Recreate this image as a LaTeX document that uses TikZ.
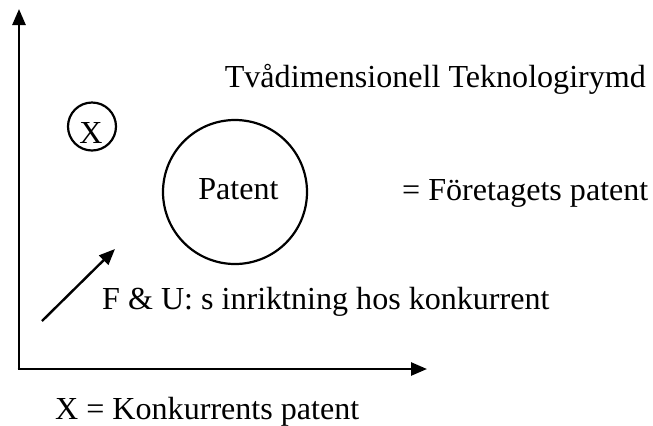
\documentclass[tikz,border=0pt]{standalone}
\usepackage{fontspec}
\setmainfont{Liberation Serif}
\usetikzlibrary{arrows.meta}
\tikzset{
  axis/.style={line width=2.6bp, -{Triangle[length=16bp,width=13bp]}},
  ring/.style={circle, draw, line width=2.2bp, inner sep=0pt},
  lbl/.style={inner sep=0pt, font=\fontsize{32.2}{38}\selectfont},
  pointer/.style={line width=2.4bp, -{Triangle[length=16bp,width=13bp]}}
}
\begin{document}
\begin{tikzpicture}[x=1bp, y=-1bp]
  \useasboundingbox (0,0) rectangle (653,425);
  % axes
  \coordinate (origin) at (19,369);
  \coordinate (ytip) at (19,9);
  \coordinate (xtip) at (427,369);
  \draw[axis] (origin) -- (ytip);
  \draw[axis, shorten <=-1.3bp] (origin) -- (xtip);
  % competitor patent
  \node[ring, minimum size=48bp] (xc) at (92,126.5) {};
  \node[lbl, anchor=base] (xl) at (91,143) {X};
  % own patent
  \node[ring, minimum size=144bp] (pc) at (235,192) {};
  \node[lbl, anchor=base] (pl) at (238.5,199) {Patent};
  % direction of competitor R&D
  \coordinate (ds) at (42,321);
  \coordinate (de) at (115,249);
  \draw[pointer] (ds) -- (de);
  % texts
  \node[lbl, anchor=base east] (title) at (646,87) {Tvådimensionell Teknologirymd};
  \node[lbl, anchor=base west] (own) at (402,200) {= Företagets patent};
  \node[lbl, anchor=base west] (rd) at (102,309) {F \& U: s inriktning hos konkurrent};
  \node[lbl, anchor=base west] (comp) at (55,419) {X = Konkurrents patent};
\end{tikzpicture}
\end{document}
